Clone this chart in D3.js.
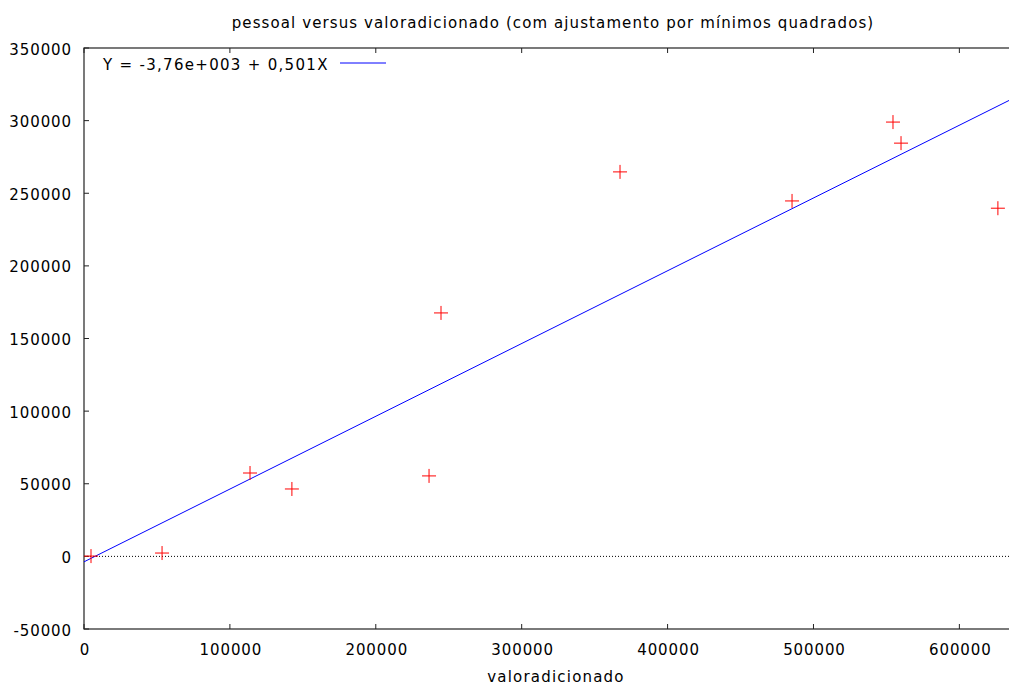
<!DOCTYPE html>
<html>
<head>
<meta charset="utf-8">
<script src="https://cdn.jsdelivr.net/npm/d3@7"></script>
<style>
  body { margin: 0; background: #fff; }
  svg text { font-family: "DejaVu Sans", Verdana, sans-serif; fill: #000; }
</style>
</head>
<body>
<div id="chart"></div>
<script>
const WIDTH = 1009;
const HEIGHT = 686;
const LEFT = 84, TOP = 48, RIGHT = 1010, BOTTOM = 629;

// data
var valoradicionado = [4800, 53500, 113800, 142500, 236500, 244700, 367400, 485300, 554500, 560000, 626400];
var pessoal = [200, 2300, 57400, 46400, 55400, 167600, 264700, 244700, 299000, 284500, 239700];
var xTicks = [0, 100000, 200000, 300000, 400000, 500000, 600000];
var yTicks = [-50000, 0, 50000, 100000, 150000, 200000, 250000, 300000, 350000];
var fitIntercept = -3760;
var fitSlope = 0.501;
var legendLabel = "Y = -3,76e+003 + 0,501X";
var titleText = "pessoal versus valoradicionado (com ajustamento por mínimos quadrados)";
var xLabelText = "valoradicionado";

var svg = d3.select("#chart")
    .append("svg")
    .attr("width", WIDTH)
    .attr("height", HEIGHT);

var x_scale = d3.scaleLinear().domain([0, 634700]).range([LEFT, RIGHT]);
var y_scale = d3.scaleLinear().domain([-50000, 350000]).range([BOTTOM, TOP]);

svg.append("clipPath")
    .attr("id", "plot-clip")
    .append("rect")
    .attr("x", LEFT).attr("y", TOP)
    .attr("width", RIGHT - LEFT).attr("height", BOTTOM - TOP);

// zero line
svg.append("line")
    .attr("x1", LEFT).attr("x2", RIGHT)
    .attr("y1", y_scale(0)).attr("y2", y_scale(0))
    .attr("stroke", "#000")
    .attr("stroke-width", 1)
    .attr("stroke-dasharray", "1,2");

// ticks, inward (right side falls outside the picture)
var tickLen = 5;
var ax = "#222";
svg.selectAll(".xtick-b").data(xTicks).enter().append("line")
    .attr("x1", d => x_scale(d)).attr("x2", d => x_scale(d))
    .attr("y1", BOTTOM).attr("y2", BOTTOM - tickLen)
    .attr("stroke", ax);
svg.selectAll(".xtick-t").data(xTicks).enter().append("line")
    .attr("x1", d => x_scale(d)).attr("x2", d => x_scale(d))
    .attr("y1", TOP).attr("y2", TOP + tickLen)
    .attr("stroke", ax);
svg.selectAll(".ytick-l").data(yTicks).enter().append("line")
    .attr("x1", LEFT).attr("x2", LEFT + tickLen)
    .attr("y1", d => y_scale(d)).attr("y2", d => y_scale(d))
    .attr("stroke", ax);

// frame
svg.append("rect")
    .attr("x", LEFT).attr("y", TOP)
    .attr("width", RIGHT - LEFT + 20).attr("height", BOTTOM - TOP)
    .attr("fill", "none")
    .attr("stroke", ax)
    .attr("stroke-width", 1.2);

// tick labels
svg.selectAll(".xlab").data(xTicks).enter().append("text")
    .attr("x", d => x_scale(d) + 1)
    .attr("y", 655)
    .attr("text-anchor", "middle")
    .style("font-size", "15px")
    .style("letter-spacing", "0.9px")
    .text(d => d);
svg.selectAll(".ylab").data(yTicks).enter().append("text")
    .attr("x", 72)
    .attr("y", d => y_scale(d) + 6.5)
    .attr("text-anchor", "end")
    .style("font-size", "15px")
    .style("letter-spacing", "0.9px")
    .text(d => d);

// fit line
var plot = svg.append("g").attr("clip-path", "url(#plot-clip)");
var xd = x_scale.domain();
plot.append("line")
    .attr("x1", x_scale(xd[0])).attr("y1", y_scale(fitIntercept + fitSlope * xd[0]))
    .attr("x2", x_scale(xd[1])).attr("y2", y_scale(fitIntercept + fitSlope * xd[1]))
    .attr("stroke", "#0000ff")
    .attr("stroke-width", 1);

// points as crosses
var pts = valoradicionado.map((v, i) => ({x: v, y: pessoal[i]}));
var R = 7;
var cross = svg.selectAll(".pt").data(pts).enter().append("g")
    .attr("transform", d => "translate(" + x_scale(d.x) + "," + y_scale(d.y) + ")");
cross.append("line").attr("x1", -R).attr("x2", R).attr("y1", 0).attr("y2", 0)
    .attr("stroke", "#ff0000");
cross.append("line").attr("x1", 0).attr("x2", 0).attr("y1", -R).attr("y2", R)
    .attr("stroke", "#ff0000");

// legend
svg.append("text")
    .attr("x", 103).attr("y", 70)
    .style("font-size", "15px")
    .style("letter-spacing", "1.3px")
    .text(legendLabel);
svg.append("line")
    .attr("x1", 340).attr("x2", 386)
    .attr("y1", 63).attr("y2", 63)
    .attr("stroke", "#0000ff");

// title and axis label
svg.append("text")
    .attr("x", 553).attr("y", 28)
    .attr("text-anchor", "middle")
    .style("font-size", "15px")
    .style("letter-spacing", "1.1px")
    .text(titleText);
svg.append("text")
    .attr("x", 556).attr("y", 682)
    .attr("text-anchor", "middle")
    .style("font-size", "15px")
    .style("letter-spacing", "1.2px")
    .text(xLabelText);
</script>
</body>
</html>
